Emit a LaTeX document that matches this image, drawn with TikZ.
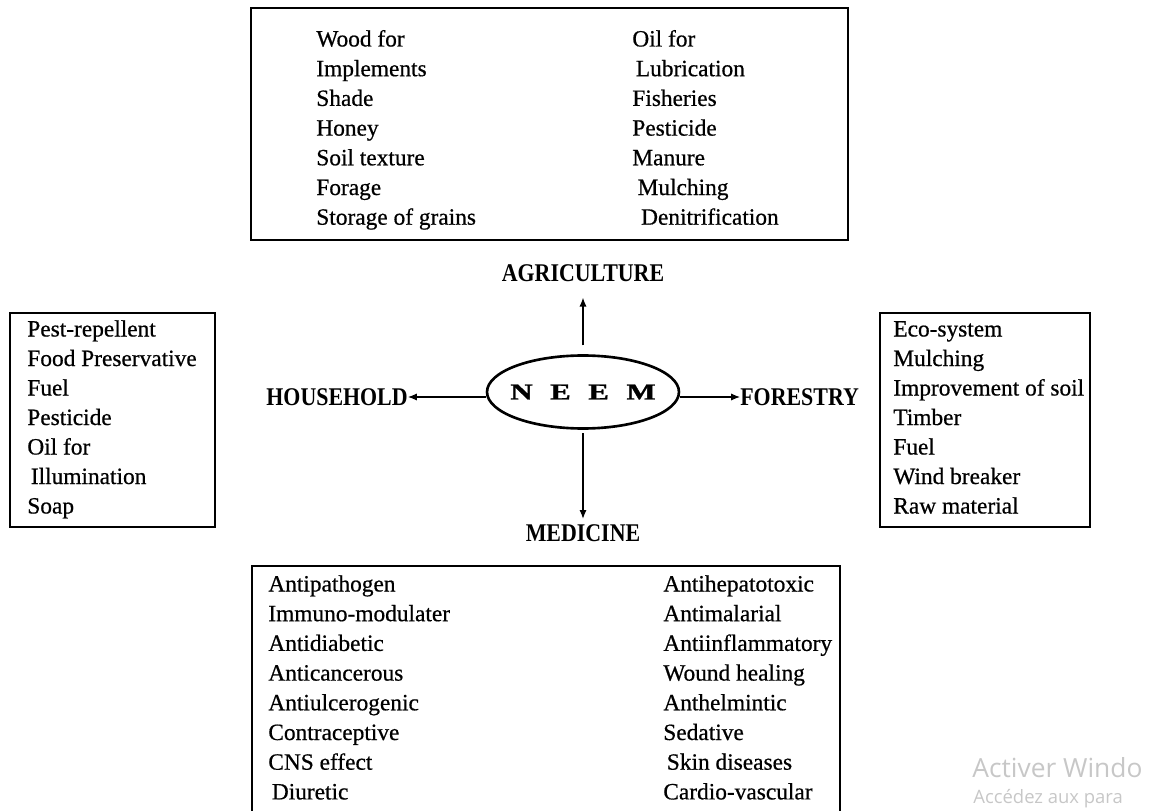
\documentclass[tikz,border=0pt]{standalone}
\usepackage{fontspec}
\setmainfont{Liberation Serif}
\newfontfamily\winfont{Open Sans}
\newfontfamily\listfont[FakeBold=0.6]{Liberation Serif}
\newfontfamily\neemfont[FakeStretch=1.35,FakeBold=1.5]{Liberation Serif}
\newfontfamily\capsfont[FakeStretch=0.86]{Liberation Serif}
\usetikzlibrary{arrows.meta,shapes.geometric}
\tikzset{
  listbox/.style={draw,line width=0.8pt},
  item/.style={anchor=base west,inner sep=0pt,font=\listfont\fontsize{13.3}{16}\selectfont},
  usage/.style={inner sep=0pt,font=\capsfont\bfseries\fontsize{14.5}{17}\selectfont},
  spoke/.style={-{Latex[length=5pt,width=4pt]},line width=0.6pt},
}
\begin{document}
\begin{tikzpicture}[x=0.02cm,y=-0.02cm]
    \useasboundingbox (0,0) rectangle (1164,811);
    \draw[listbox] (251,8) rectangle (848,240);
    \draw[listbox] (10,313) rectangle (215,527);
    \draw[listbox] (880,313) rectangle (1090,527);
    \draw[listbox] (252,566) rectangle (840,830);
    \foreach \t [count=\i from 0] in {Wood for,Implements,Shade,Honey,Soil texture,Forage,Storage of grains}
        \node[item] (agl\i) at (316,46.5+29.7*\i) {\t};
    \foreach \t [count=\i from 0] in {Oil for,\hspace{2pt}Lubrication,Fisheries,Pesticide,Manure,\hspace{3pt}Mulching,\hspace{5pt}Denitrification}
        \node[item] (agr\i) at (632,46.5+29.7*\i) {\t};
    \foreach \t [count=\i from 0] in {Pest-repellent,Food Preservative,Fuel,Pesticide,Oil for,\hspace{2pt}Illumination,Soap}
        \node[item] (hh\i) at (27,336.5+29.5*\i) {\t};
    \foreach \t [count=\i from 0] in {Eco-system,Mulching,Improvement of soil,Timber,Fuel,Wind breaker,Raw material}
        \node[item] (fo\i) at (893,336.5+29.5*\i) {\t};
    \foreach \t [count=\i from 0] in {Antipathogen,Immuno-modulater,Antidiabetic,Anticancerous,Antiulcerogenic,Contraceptive,CNS effect,\hspace{2pt}Diuretic}
        \node[item] (mdl\i) at (268,591.5+29.7*\i) {\t};
    \foreach \t [count=\i from 0] in {Antihepatotoxic,Antimalarial,Antiinflammatory,Wound healing,Anthelmintic,Sedative,\hspace{2pt}Skin diseases,Cardio-vascular}
        \node[item] (mdr\i) at (663,591.5+29.7*\i) {\t};
    \node[ellipse,draw,line width=1.5pt,minimum width=3.84cm,minimum height=1.46cm,inner sep=0pt] (neem) at (583,392)
        {\makebox[0pt]{\neemfont\bfseries\fontsize{13}{15}\selectfont N\hspace{10pt}E\hspace{10pt}E\hspace{10pt}M}};
    \node[usage] (agri) at (583,273) {AGRICULTURE};
    \node[usage,anchor=east] (house) at (408,397) {HOUSEHOLD};
    \node[usage,anchor=west] (forest) at (740,397) {FORESTRY};
    \node[usage] (med) at (583,533) {MEDICINE};
    \draw[spoke,shorten <=5pt,shorten >=9pt] (neem.north) -- (agri.south);
    \draw[spoke] (house.east -| neem.west) -- (house.east);
    \draw[spoke] (forest.west -| neem.east) -- (forest.west);
    \draw[spoke,shorten <=2pt,shorten >=3pt] (neem.south) -- (med.north);
    \node[anchor=base west,inner sep=0pt,text=black!22,font=\winfont\fontsize{15}{18}\selectfont] (wm1) at (972,777) {Activer Windo};
    \node[anchor=base west,inner sep=0pt,text=black!22,font=\winfont\fontsize{10.5}{13}\selectfont] (wm2) at (973,803) {Accédez aux para};
\end{tikzpicture}
\end{document}
